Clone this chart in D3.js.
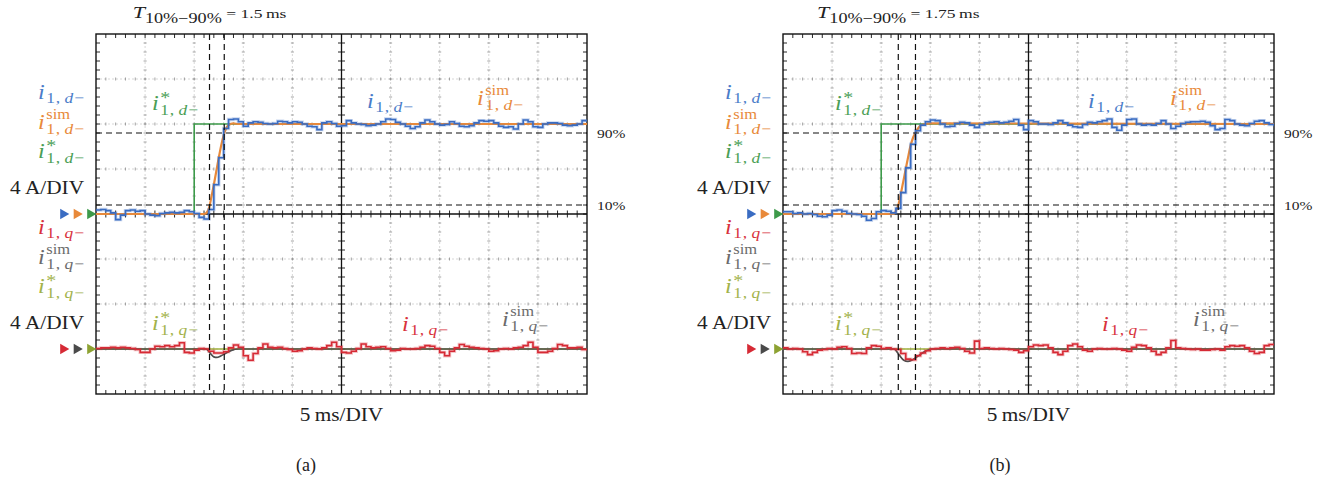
<!DOCTYPE html>
<html>
<head>
<meta charset="utf-8">
<script src="https://cdn.jsdelivr.net/npm/d3@7"></script>
<style>
  body { margin: 0; background: #fff; }
  svg { display: block; font-family: "Liberation Serif", "Times New Roman", serif; }
</style>
</head>
<body>
<div id="chart"></div>
<script>
// scope samples, 0.5 ms apart, 10 div x 5 ms
const sampleStep = 0.5;
const timeSpan = 50;

// reference step (d axis) and q reference
const refStepT = 10;
const refLevel = 8;
const refQ = 0;

// 10% / 90% crossing times, ms
const riseA = [11.56, 13.06];
const riseB = [11.74, 13.49];
const riseLevels = [0.1, 0.9];

// measured i_d, panel (a)
const idMeasA = [
  0.35, 0.4, 0.3, 0.1, -0.5, -0.1, 0.3, 0.35, 0.25, 0.3,
  0.0, -0.1, -0.15, 0.05, 0.1, 0.15, 0.1, 0.15, 0.3, 0.2,
  0.05, -0.3, -0.45, 0.4, 2.6, 5.0, 7.6, 8.4, 8.45, 8.2,
  7.8, 8.1, 8.2, 8.15, 8.05, 8.0, 8.05, 8.25, 8.2, 8.1,
  8.2, 8.15, 8.0, 7.8, 7.75, 7.5, 8.1, 8.2, 8.05, 7.8,
  7.85, 8.3, 8.1, 8.0, 7.95, 7.85, 7.9, 8.0, 8.2, 8.45,
  8.4, 8.15, 8.0, 7.8, 7.6, 7.75, 8.1, 8.35, 8.2, 8.0,
  7.9, 7.95, 8.2, 8.05, 7.8, 7.75, 7.85, 8.1, 8.3, 8.25,
  8.3, 8.1, 7.8, 7.7, 7.75, 7.55, 8.0, 8.35, 8.2, 7.75,
  7.7, 8.0, 8.1, 8.1, 8.05, 7.9, 7.85, 7.9, 8.0, 8.3,
  8.35
];
// measured i_d, panel (b)
const idMeasB = [
  0.2, 0.2, 0.05, 0.1, 0.0, 0.05, -0.05, -0.2, -0.25, -0.1,
  0.3, 0.35, 0.25, 0.05, 0.0, -0.05, -0.2, -0.55, -0.4, 0.2,
  0.3, 0.25, 0.1, 0.5, 1.9, 4.1, 6.2, 7.4, 7.9, 8.2,
  8.35, 8.3, 8.0, 7.75, 7.8, 8.05, 8.15, 8.1, 7.9, 7.7,
  7.95, 8.1, 8.15, 8.2, 8.1, 8.15, 8.25, 8.4, 7.9, 7.5,
  8.3, 8.2, 8.0, 8.0, 7.95, 8.1, 8.3, 8.1, 7.9, 7.75,
  7.7, 7.95, 8.15, 8.1, 8.2, 8.3, 8.45, 7.7, 7.45, 7.9,
  8.4, 8.45, 8.0, 7.9, 7.95, 7.9, 8.05, 8.3, 8.0, 7.6,
  7.8, 8.05, 8.15, 8.2, 8.2, 8.25, 8.15, 7.85, 7.5, 7.6,
  8.4, 8.3, 8.0, 7.9, 7.85, 8.05, 8.25, 8.3, 8.1, 7.95,
  7.8
];
// measured i_q, panel (a)
const iqMeasA = [
  0.05, 0.1, 0.1, 0.15, 0.1, 0.15, 0.1, 0.05, -0.05, -0.3,
  -0.3, 0.0, 0.25, 0.2, 0.3, 0.2, 0.3, 0.55, -0.3, -0.35,
  -0.1, 0.05, 0.0, -0.2, -0.35, -0.35, -0.25, 0.1, 0.35, 0.15,
  -0.6, -1.0, -0.4, 0.1, 0.45, 0.15, 0.1, 0.15, 0.05, -0.05,
  -0.2, -0.15, 0.0, 0.1, 0.05, 0.0, 0.1, 0.3, 0.6, 0.2,
  -0.3, -0.35, -0.2, 0.05, 0.45, 0.2, 0.1, 0.15, 0.2, 0.05,
  -0.15, -0.1, 0.05, 0.0, 0.0, 0.05, 0.15, 0.3, 0.25, 0.05,
  -0.3, -0.6, -0.2, 0.1, 0.4, 0.25, 0.15, 0.1, 0.05, 0.0,
  -0.2, -0.15, 0.0, 0.05, 0.0, 0.1, 0.15, 0.3, 0.6, 0.15,
  -0.3, -0.3, -0.2, 0.05, 0.4, 0.3, 0.1, 0.1, 0.15, -0.05,
  -0.1
];
// measured i_q, panel (b)
const iqMeasB = [
  0.1, 0.0, 0.05, 0.0, -0.25, -0.5, -0.3, -0.1, -0.05, 0.05,
  0.0, 0.15, 0.2, 0.05, -0.4, -0.35, -0.4, 0.1, 0.3, 0.25,
  0.05, 0.1, 0.0, -0.05, -0.4, -0.9, -0.95, -0.6, -0.35, -0.15,
  0.0, 0.05, 0.1, 0.05, 0.1, 0.15, 0.05, -0.2, -0.35, 0.7,
  0.05, 0.1, 0.05, 0.0, 0.05, 0.0, -0.05, -0.1, -0.3, -0.15,
  0.2, 0.35, 0.3, 0.35, 0.1, -0.3, -0.5, -0.2, 0.3, 0.45,
  0.2, -0.1, -0.2, 0.0, 0.05, 0.0, 0.0, 0.05, 0.0, -0.1,
  -0.2, 0.15, 0.35, 0.3, 0.1, -0.2, -0.5, -0.3, 0.1, 0.75,
  0.1, 0.05, 0.0, -0.05, 0.0, -0.1, -0.1, -0.05, 0.0, -0.1,
  0.2, 0.3, 0.25, 0.3, 0.1, -0.2, -0.4, -0.3, 0.3, 0.4,
  0.35
];

// simulated responses (time ms, value A)
const idSimTA = [0, 11.0, 11.25, 11.5, 11.75, 12.0, 12.25, 12.5, 12.75, 13.0, 13.25, 13.5, 14.0, 14.5, 50];
const idSimA  = [0, 0, 0.1, 0.5, 1.5, 2.6, 3.8, 5.0, 6.1, 7.0, 7.6, 7.9, 8.05, 8.0, 8.0];
const idSimTB = [0, 11.3, 11.5, 11.75, 12.0, 12.25, 12.5, 12.75, 13.0, 13.25, 13.5, 13.75, 14.0, 14.5, 15.0, 50];
const idSimB  = [0, 0, 0.3, 0.8, 1.8, 2.9, 4.0, 5.1, 6.1, 6.8, 7.25, 7.6, 7.85, 8.0, 8.05, 8.0];
const iqSimTA = [0, 11.2, 11.6, 12.0, 12.3, 12.7, 13.2, 13.8, 14.5, 50];
const iqSimA  = [0, 0, -0.35, -0.7, -0.75, -0.62, -0.38, -0.12, 0, 0];
const iqSimTB = [0, 11.3, 11.8, 12.3, 12.7, 13.2, 13.8, 14.4, 15.2, 50];
const iqSimB  = [0, 0, -0.5, -1.0, -1.1, -0.95, -0.6, -0.25, 0, 0];

const W = 491, H = 360, TOP = 34;
const ampPerDiv = 4;
const qOffset = -3 * ampPerDiv;   // q channel sits 3 div below d channel
const SX = 1.15;                  // wide serif look

const col = {
  blue: "#3a6cc2", orange: "#e8893a", green: "#3d9a4a",
  red: "#d62a35", gray: "#4d4d4d", olive: "#9fb03c"
};
const lcol = {
  blue: "#4a7cc9", orange: "#e8893a", green: "#4a9e55",
  red: "#d8323c", gray: "#6b6b6b", olive: "#a2b24a"
};

const panels = [
  { key: "a", left: 96, idMeas: idMeasA, iqMeas: iqMeasA,
    idSimT: idSimTA, idSim: idSimA, iqSimT: iqSimTA, iqSim: iqSimA, rise: riseA,
    lx: { dRef: 56, dMeas: 271, dSim: 381, qRef: 56, qMeas: 306, qSim: 406 }, capX: 210 },
  { key: "b", left: 783, idMeas: idMeasB, iqMeas: iqMeasB,
    idSimT: idSimTB, idSim: idSimB, iqSimT: iqSimTB, iqSim: iqSimB, rise: riseB,
    lx: { dRef: 52, dMeas: 305, dSim: 387, qRef: 52, qMeas: 319, qSim: 410 }, capX: 217 }
];

const tSamples = d3.range(0, timeSpan + 1e-9, sampleStep);

const svg = d3.select("#chart").append("svg")
  .attr("width", 1343)
  .attr("height", 482);
svg.append("rect").attr("width", 1343).attr("height", 482).attr("fill", "#fff");

// i with sub (and optional sup) as one text element
function mathLabel(parent, o) {
  const s = o.size || 21, ss = s * 0.72;
  const probe = parent.append("text").attr("font-size", s).attr("font-style", "italic").text("i");
  const wi = probe.node().getComputedTextLength() + s * 0.06;
  probe.remove();
  const g = parent.append("g");
  const t = g.append("text").attr("fill", o.color);
  t.append("tspan").attr("font-size", s).attr("font-style", "italic").text("i");
  t.append("tspan").attr("x", wi).attr("y", o.sup ? s * 0.22 : s * 0.17)
    .attr("font-size", ss).attr("letter-spacing", 0.8).text("1,");
  t.append("tspan").attr("dx", ss * 0.2).attr("font-size", ss)
    .attr("font-style", "italic").attr("letter-spacing", 0.8).text(o.chan);
  t.append("tspan").attr("font-size", ss).text("\u2212");
  if (o.sup) {
    t.append("tspan").attr("x", wi)
      .attr("y", o.sup === "*" ? -s * 0.32 : -s * 0.5)
      .attr("font-size", o.sup === "*" ? ss * 1.15 : ss * 0.95)
      .text(o.sup);
  }
  const w = t.node().getBBox().width;
  const shift = o.anchor === "end" ? -w * SX : 0;
  g.attr("transform", `translate(${o.x + shift},${o.y}) scale(${SX},1)`);
}

function plainText(parent, x, y, str, size, anchor, sx) {
  parent.append("g")
    .attr("transform", `translate(${x},${y}) scale(${sx},1)`)
    .append("text")
    .attr("text-anchor", anchor)
    .attr("font-size", size)
    .attr("fill", "#222")
    .text(str);
}

function graticule(g, L) {
  const R = L + W, B = TOP + H, cx = L + W / 2, cy = TOP + H / 2;
  const dx = W / 10, dy = H / 8;
  const vx = d3.range(1, 10).filter(k => k !== 5).map(k => L + k * dx);
  const hy = d3.range(1, 8).filter(j => j !== 4).map(j => TOP + j * dy);
  const minX = d3.range(1, 50).map(m => L + m * dx / 5);
  const minY = d3.range(1, 40).map(m => TOP + m * dy / 5);

  g.selectAll(null).data(vx).enter().append("line")
    .attr("x1", d => d).attr("x2", d => d).attr("y1", TOP).attr("y2", B)
    .attr("stroke", "#d2d2d2").attr("stroke-width", 0.9).attr("stroke-dasharray", "2,2");
  g.selectAll(null).data(hy).enter().append("line")
    .attr("y1", d => d).attr("y2", d => d).attr("x1", L).attr("x2", R)
    .attr("stroke", "#d2d2d2").attr("stroke-width", 0.9).attr("stroke-dasharray", "2,2");

  // little marks on the grid lines
  vx.forEach(xv => {
    g.selectAll(null).data(minY).enter().append("line")
      .attr("x1", xv - 1.5).attr("x2", xv + 1.5).attr("y1", d => d).attr("y2", d => d)
      .attr("stroke", "#8a8a8a").attr("stroke-width", 0.8);
  });
  hy.forEach(yv => {
    g.selectAll(null).data(minX).enter().append("line")
      .attr("y1", yv - 1.5).attr("y2", yv + 1.5).attr("x1", d => d).attr("x2", d => d)
      .attr("stroke", "#8a8a8a").attr("stroke-width", 0.8);
  });

  // center cross with ticks
  g.append("line").attr("x1", L).attr("x2", R).attr("y1", cy).attr("y2", cy)
    .attr("stroke", "#111").attr("stroke-width", 1.3);
  g.append("line").attr("x1", cx).attr("x2", cx).attr("y1", TOP).attr("y2", B)
    .attr("stroke", "#111").attr("stroke-width", 1.3);
  g.selectAll(null).data(minX).enter().append("line")
    .attr("x1", d => d).attr("x2", d => d).attr("y1", cy - 3.5).attr("y2", cy + 3.5)
    .attr("stroke", "#111").attr("stroke-width", 0.9);
  g.selectAll(null).data(minY).enter().append("line")
    .attr("y1", d => d).attr("y2", d => d).attr("x1", cx - 3.5).attr("x2", cx + 3.5)
    .attr("stroke", "#111").attr("stroke-width", 0.9);

  // border ticks
  g.selectAll(null).data(minX).enter().append("line")
    .attr("x1", d => d).attr("x2", d => d).attr("y1", TOP).attr("y2", TOP + 4)
    .attr("stroke", "#111").attr("stroke-width", 0.9);
  g.selectAll(null).data(minX).enter().append("line")
    .attr("x1", d => d).attr("x2", d => d).attr("y1", B - 4).attr("y2", B)
    .attr("stroke", "#111").attr("stroke-width", 0.9);
  g.selectAll(null).data(minY).enter().append("line")
    .attr("y1", d => d).attr("y2", d => d).attr("x1", L).attr("x2", L + 4)
    .attr("stroke", "#111").attr("stroke-width", 0.9);
  g.selectAll(null).data(minY).enter().append("line")
    .attr("y1", d => d).attr("y2", d => d).attr("x1", R - 4).attr("x2", R)
    .attr("stroke", "#111").attr("stroke-width", 0.9);

  g.append("rect").attr("x", L).attr("y", TOP).attr("width", W).attr("height", H)
    .attr("fill", "none").attr("stroke", "#111").attr("stroke-width", 1.4);
}

panels.forEach(p => {
  const L = p.left;
  const x = d3.scaleLinear().domain([0, timeSpan]).range([L, L + W]);
  const y = d3.scaleLinear().domain([-4 * ampPerDiv, 4 * ampPerDiv]).range([TOP + H, TOP]);
  const yq = v => y(v + qOffset);
  const g = svg.append("g");

  graticule(g.append("g"), L);

  const clipId = "clip-" + p.key;
  svg.append("clipPath").attr("id", clipId)
    .append("rect").attr("x", L).attr("y", TOP).attr("width", W).attr("height", H);
  const plot = g.append("g").attr("clip-path", `url(#${clipId})`);

  const stepLine = d3.line().x(d => x(d[0])).curve(d3.curveStepAfter);
  const smooth = d3.line().x(d => x(d[0])).curve(d3.curveMonotoneX);

  // q channel: reference, simulation, measurement
  plot.append("path")
    .attr("d", d3.line().x(d => x(d[0])).y(d => yq(d[1]))([[0, refQ], [timeSpan, refQ]]))
    .attr("fill", "none").attr("stroke", col.olive).attr("stroke-width", 1.6);
  plot.append("path")
    .attr("d", smooth.y(d => yq(d[1]))(d3.zip(p.iqSimT, p.iqSim)))
    .attr("fill", "none").attr("stroke", col.gray).attr("stroke-width", 1.7);
  const qData = d3.zip(tSamples, p.iqMeas);
  plot.append("path")
    .attr("d", stepLine.y(d => yq(d[1]))(qData))
    .attr("fill", "none").attr("stroke", col.red).attr("stroke-opacity", 0.28).attr("stroke-width", 3.4);
  plot.append("path")
    .attr("d", stepLine.y(d => yq(d[1]))(qData))
    .attr("fill", "none").attr("stroke", col.red).attr("stroke-width", 1.6);

  // d channel: reference step, simulation, measurement
  plot.append("path")
    .attr("d", d3.line().x(d => x(d[0])).y(d => y(d[1])).curve(d3.curveStepAfter)(
      [[0, 0], [refStepT, refLevel], [timeSpan, refLevel]]))
    .attr("fill", "none").attr("stroke", col.green).attr("stroke-width", 1.6);
  plot.append("path")
    .attr("d", smooth.y(d => y(d[1]))(d3.zip(p.idSimT, p.idSim)))
    .attr("fill", "none").attr("stroke", col.orange).attr("stroke-width", 2.2);
  const dData = d3.zip(tSamples, p.idMeas);
  plot.append("path")
    .attr("d", stepLine.y(d => y(d[1]))(dData))
    .attr("fill", "none").attr("stroke", col.blue).attr("stroke-opacity", 0.28).attr("stroke-width", 3.4);
  plot.append("path")
    .attr("d", stepLine.y(d => y(d[1]))(dData))
    .attr("fill", "none").attr("stroke", col.blue).attr("stroke-width", 1.6);

  // 10% / 90% guides
  g.selectAll(null).data(riseLevels).enter().append("line")
    .attr("x1", L).attr("x2", L + W)
    .attr("y1", d => y(d * refLevel)).attr("y2", d => y(d * refLevel))
    .attr("stroke", "#111").attr("stroke-width", 1.2).attr("stroke-dasharray", "6,4");
  g.selectAll(null).data(p.rise).enter().append("line")
    .attr("x1", d => x(d)).attr("x2", d => x(d))
    .attr("y1", TOP).attr("y2", TOP + H)
    .attr("stroke", "#111").attr("stroke-width", 1.2).attr("stroke-dasharray", "6,4");
  riseLevels.forEach(lv => {
    plainText(g, L + W + 10, y(lv * refLevel) + 5, Math.round(lv * 100) + "%", 13.5, "start", SX);
  });

  // rise time caption
  const tr = Math.round((p.rise[1] - p.rise[0]) * 100) / 100;
  const cap = g.append("g").attr("transform", `translate(${x(p.rise[0])},18) scale(1.3,1)`)
    .append("text").attr("text-anchor", "middle").attr("fill", "#222");
  cap.append("tspan").attr("font-style", "italic").attr("font-size", 17).text("T");
  cap.append("tspan").attr("dy", 5).attr("font-size", 14).text("10%\u221290%");
  cap.append("tspan").attr("dy", -5).attr("font-size", 13.5).text(" = " + tr + "\u2009ms");

  // channel markers
  const tri = d3.symbol(d3.symbolTriangle, 48);
  const markerSets = [
    { y0: y(0), cols: [col.blue, col.orange, col.green] },
    { y0: yq(0), cols: [col.red, "#4a4a4a", "#8da232"] }
  ];
  markerSets.forEach(ms => {
    g.selectAll(null).data(ms.cols).enter().append("path")
      .attr("d", tri)
      .attr("transform", (d, i) => `translate(${L - 5.8 - (2 - i) * 13.5},${ms.y0}) rotate(90)`)
      .attr("fill", d => d);
  });

  // channel list on the left
  const lx = L - 12;
  [[y(0), "d", [lcol.blue, lcol.orange, lcol.green]],
   [yq(0), "q", [lcol.red, lcol.gray, lcol.olive]]].forEach(([y0, ch, cs]) => {
    mathLabel(g, { x: lx, y: y0 - 115, anchor: "end", color: cs[0], chan: ch });
    mathLabel(g, { x: lx, y: y0 - 85, anchor: "end", color: cs[1], chan: ch, sup: "sim" });
    mathLabel(g, { x: lx, y: y0 - 56, anchor: "end", color: cs[2], chan: ch, sup: "*" });
    plainText(g, lx, y0 - 20, "4\u2009A/DIV", 18.5, "end", SX);
  });

  // labels inside the screen
  mathLabel(g, { x: L + p.lx.dRef, y: 110, color: lcol.green, chan: "d", sup: "*" });
  mathLabel(g, { x: L + p.lx.dMeas, y: 108, color: lcol.blue, chan: "d" });
  mathLabel(g, { x: L + p.lx.dSim, y: 105, color: lcol.orange, chan: "d", sup: "sim" });
  mathLabel(g, { x: L + p.lx.qRef, y: 330, color: lcol.olive, chan: "q", sup: "*" });
  mathLabel(g, { x: L + p.lx.qMeas, y: 331, color: lcol.red, chan: "q" });
  mathLabel(g, { x: L + p.lx.qSim, y: 326, color: lcol.gray, chan: "q", sup: "sim" });

  plainText(g, L + W / 2, 421, "5\u2009ms/DIV", 18.5, "middle", SX);
  plainText(g, L + p.capX, 471, "(" + p.key + ")", 18, "middle", 1);
});
</script>
</body>
</html>
